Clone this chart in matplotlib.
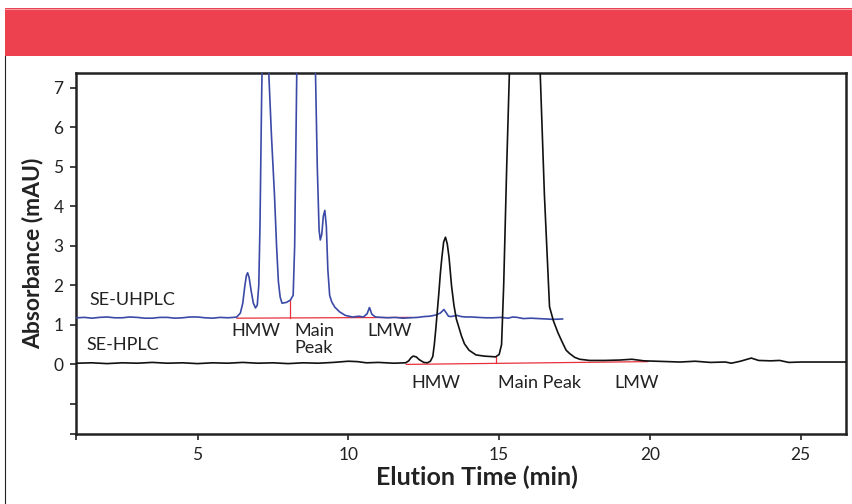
import numpy as np
import matplotlib
matplotlib.use('Agg')
import matplotlib.pyplot as plt
from matplotlib.patches import Rectangle
from matplotlib.lines import Line2D

plt.rcParams['font.family'] = ['Lato', 'DejaVu Sans']

# SE-UHPLC trace (blue), elution time (min) / absorbance (mAU)
uhplc_t = [1.0, 1.25, 1.5, 1.75, 2.0, 2.25, 2.5, 2.75, 3.0, 3.25, 3.5, 3.75,
           4.0, 4.25, 4.5, 4.75, 5.0, 5.25, 5.5, 5.75, 6.0, 6.2, 6.3,
           6.42, 6.5, 6.57, 6.62, 6.66, 6.71, 6.78, 6.85, 6.92, 6.98, 7.03,
           7.07, 7.12, 7.17, 7.22, 7.3, 7.36, 7.45, 7.55, 7.62, 7.68, 7.74,
           7.8, 7.95, 8.08, 8.17, 8.22, 8.26, 8.29, 8.4, 8.6, 8.8, 8.91, 8.97,
           9.03, 9.07, 9.12, 9.17, 9.22, 9.27, 9.32, 9.38, 9.45, 9.55, 9.71,
           9.9, 10.14, 10.35, 10.5, 10.62, 10.7, 10.78, 10.9, 11.1, 11.3,
           11.55, 11.8, 12.05, 12.3, 12.5, 12.7, 12.9, 13.05, 13.17, 13.25,
           13.32, 13.4, 13.6, 13.75, 13.9, 14.1, 14.3, 14.55, 14.8, 15.05, 15.3,
           15.45, 15.6, 15.8, 16.05, 16.3, 16.55, 16.8, 17.1]
uhplc_y = [1.18, 1.19, 1.17, 1.19, 1.20, 1.18, 1.18, 1.20, 1.19, 1.17, 1.17, 1.19,
           1.19, 1.17, 1.18, 1.20, 1.20, 1.18, 1.17, 1.19, 1.18, 1.19, 1.20,
           1.30, 1.55, 2.00, 2.25, 2.32, 2.20, 1.85, 1.55, 1.43, 1.50, 2.00,
           3.50, 6.50, 9.00, 10.0, 8.50, 7.40, 5.80, 4.30, 3.00, 2.10, 1.70,
           1.55, 1.57, 1.63, 1.75, 3.00, 5.50, 7.40, 10.0, 11.0, 10.0, 7.40,
           5.00, 3.40, 3.15, 3.30, 3.75, 3.90, 3.50, 2.40, 1.75, 1.58, 1.45,
           1.33, 1.24, 1.20, 1.22, 1.20, 1.28, 1.44, 1.27, 1.20, 1.19, 1.18,
           1.19, 1.17, 1.18, 1.19, 1.21, 1.22, 1.25, 1.30, 1.39, 1.30, 1.22,
           1.21, 1.24, 1.21, 1.20, 1.20, 1.19, 1.18, 1.18, 1.19, 1.17, 1.20,
           1.19, 1.16, 1.17, 1.16, 1.15, 1.14, 1.15]

# SE-HPLC trace (black)
hplc_t = [1.0, 1.5, 2.0, 2.5, 3.0, 3.5, 4.0, 4.5, 5.0, 5.5, 6.0, 6.5, 7.0,
          7.5, 8.0, 8.5, 9.0, 9.5, 10.0, 10.3, 10.6, 11.0, 11.5, 11.9, 12.0,
          12.08, 12.15, 12.25, 12.35, 12.5, 12.62, 12.72, 12.8, 12.85, 12.9,
          12.95, 13.0, 13.05, 13.1, 13.16, 13.22, 13.28, 13.34, 13.42, 13.5,
          13.58, 13.66, 13.75, 13.85, 14.0, 14.23, 14.5, 14.7, 14.88, 15.0,
          15.08, 15.15, 15.25, 15.34, 15.5, 15.85, 16.2, 16.36, 16.5, 16.67,
          16.8, 16.95, 17.1, 17.22, 17.33, 17.5, 17.67, 18.0, 18.5, 19.0, 19.4,
          19.8, 20.2, 20.6, 21.0, 21.5, 22.0, 22.5, 22.7, 23.0, 23.36, 23.6,
          24.0, 24.3, 24.6, 25.0, 25.5, 26.0, 26.5]
hplc_y = [0.03, 0.04, 0.02, 0.04, 0.03, 0.05, 0.03, 0.04, 0.02, 0.04, 0.03,
          0.05, 0.03, 0.04, 0.02, 0.04, 0.03, 0.05, 0.08, 0.07, 0.04, 0.05,
          0.03, 0.04, 0.09, 0.17, 0.21, 0.19, 0.12, 0.05, 0.04, 0.08, 0.20,
          0.50, 0.90, 1.35, 1.80, 2.30, 2.70, 3.10, 3.22, 3.05, 2.70, 2.00,
          1.50, 1.15, 0.95, 0.72, 0.52, 0.36, 0.24, 0.21, 0.20, 0.19, 0.25,
          0.50, 2.00, 5.00, 7.40, 12.0, 14.0, 12.0, 7.40, 4.30, 1.46, 1.10,
          0.80, 0.55, 0.36, 0.28, 0.18, 0.13, 0.10, 0.10, 0.11, 0.13, 0.09,
          0.08, 0.07, 0.06, 0.08, 0.05, 0.06, 0.03, 0.08, 0.16, 0.10, 0.09,
          0.10, 0.05, 0.06, 0.06, 0.06, 0.06]

# integration baselines and drop lines (red)
uhplc_base_t = [6.3, 12.08]
uhplc_base_y = [1.17, 1.19]
uhplc_drop_t = 8.05
uhplc_drop_y = [1.18, 1.62]
hplc_base_t = [11.92, 19.93]
hplc_base_y = [0.0, 0.07]
hplc_drop_t = 14.88
hplc_drop_y = [0.03, 0.19]

# labels
trace_names = ['SE-UHPLC', 'SE-HPLC']
trace_name_x = [1.4, 1.33]
trace_name_y = [1.42, 0.28]
peak_labels = ['HMW', 'Main\nPeak', 'LMW', 'HMW', 'Main Peak', 'LMW']
peak_label_x = [6.92, 8.22, 11.37, 12.89, 16.34, 19.56]
peak_label_y = [1.06, 1.06, 1.06, -0.27, -0.27, -0.27]
peak_label_ha = ['center', 'left', 'center', 'center', 'center', 'center']

xticks = [5, 10, 15, 20, 25]
yticks = [0, 1, 2, 3, 4, 5, 6, 7]

fig = plt.figure(figsize=(8.53, 5.04), dpi=100)

# red banner and frame
fig.patches.append(Rectangle((5 / 853, 1 - 56 / 504), 1, 48 / 504,
                             transform=fig.transFigure, facecolor='#ee4150',
                             edgecolor='none', zorder=0))
fig.lines.append(Line2D([5 / 853, 1], [1 - 8.5 / 504, 1 - 8.5 / 504],
                        transform=fig.transFigure, color='#f39aa2', lw=0.8))
fig.lines.append(Line2D([5.5 / 853, 5.5 / 853], [0, 1 - 56 / 504],
                        transform=fig.transFigure, color='#222222', lw=0.8))

ax = fig.add_axes([76 / 853, 1 - 434.3 / 504, 770 / 853, 361 / 504])

ax.plot(uhplc_t, uhplc_y, color='#3b4aa6', lw=1.2, zorder=3)
ax.plot(hplc_t, hplc_y, color='#111111', lw=1.2, zorder=3)

red = '#e8303c'
ax.plot(uhplc_base_t, uhplc_base_y, color=red, lw=0.9, zorder=2)
ax.plot([uhplc_drop_t] * 2, uhplc_drop_y, color=red, lw=0.9, zorder=2)
ax.plot(hplc_base_t, hplc_base_y, color=red, lw=0.9, zorder=2)
ax.plot([hplc_drop_t] * 2, hplc_drop_y, color=red, lw=0.9, zorder=2)

for name, x, y in zip(trace_names, trace_name_x, trace_name_y):
    ax.text(x, y, name, fontsize=13, color='#222222', ha='left', va='bottom')

for lab, x, y, ha in zip(peak_labels, peak_label_x, peak_label_y, peak_label_ha):
    ax.text(x, y, lab, fontsize=13, color='#222222', ha=ha, va='top',
            linespacing=1.15)

ax.set_xlim(0.97, 26.5)
ax.set_ylim(-1.77, 7.37)

ax.set_xticks([0.97] + xticks)
ax.set_xticklabels([''] + [str(v) for v in xticks])
ax.set_yticks([-1.77, -1] + yticks)
ax.set_yticklabels(['', ''] + [str(v) for v in yticks])

ax.tick_params(direction='out', length=4, width=1.2, labelsize=12.5,
               colors='#222222', pad=5)
for s in ax.spines.values():
    s.set_linewidth(1.8)
    s.set_color('#222222')

ax.set_xlabel('Elution Time (min)', fontsize=18, fontweight='bold',
              color='#222222', labelpad=2)
ax.xaxis.label.set_x((477 - 76) / 770)
ax.set_ylabel('Absorbance (mAU)', fontsize=16.5, fontweight='bold',
              color='#222222', labelpad=7)

plt.savefig('out.png', dpi=100)
